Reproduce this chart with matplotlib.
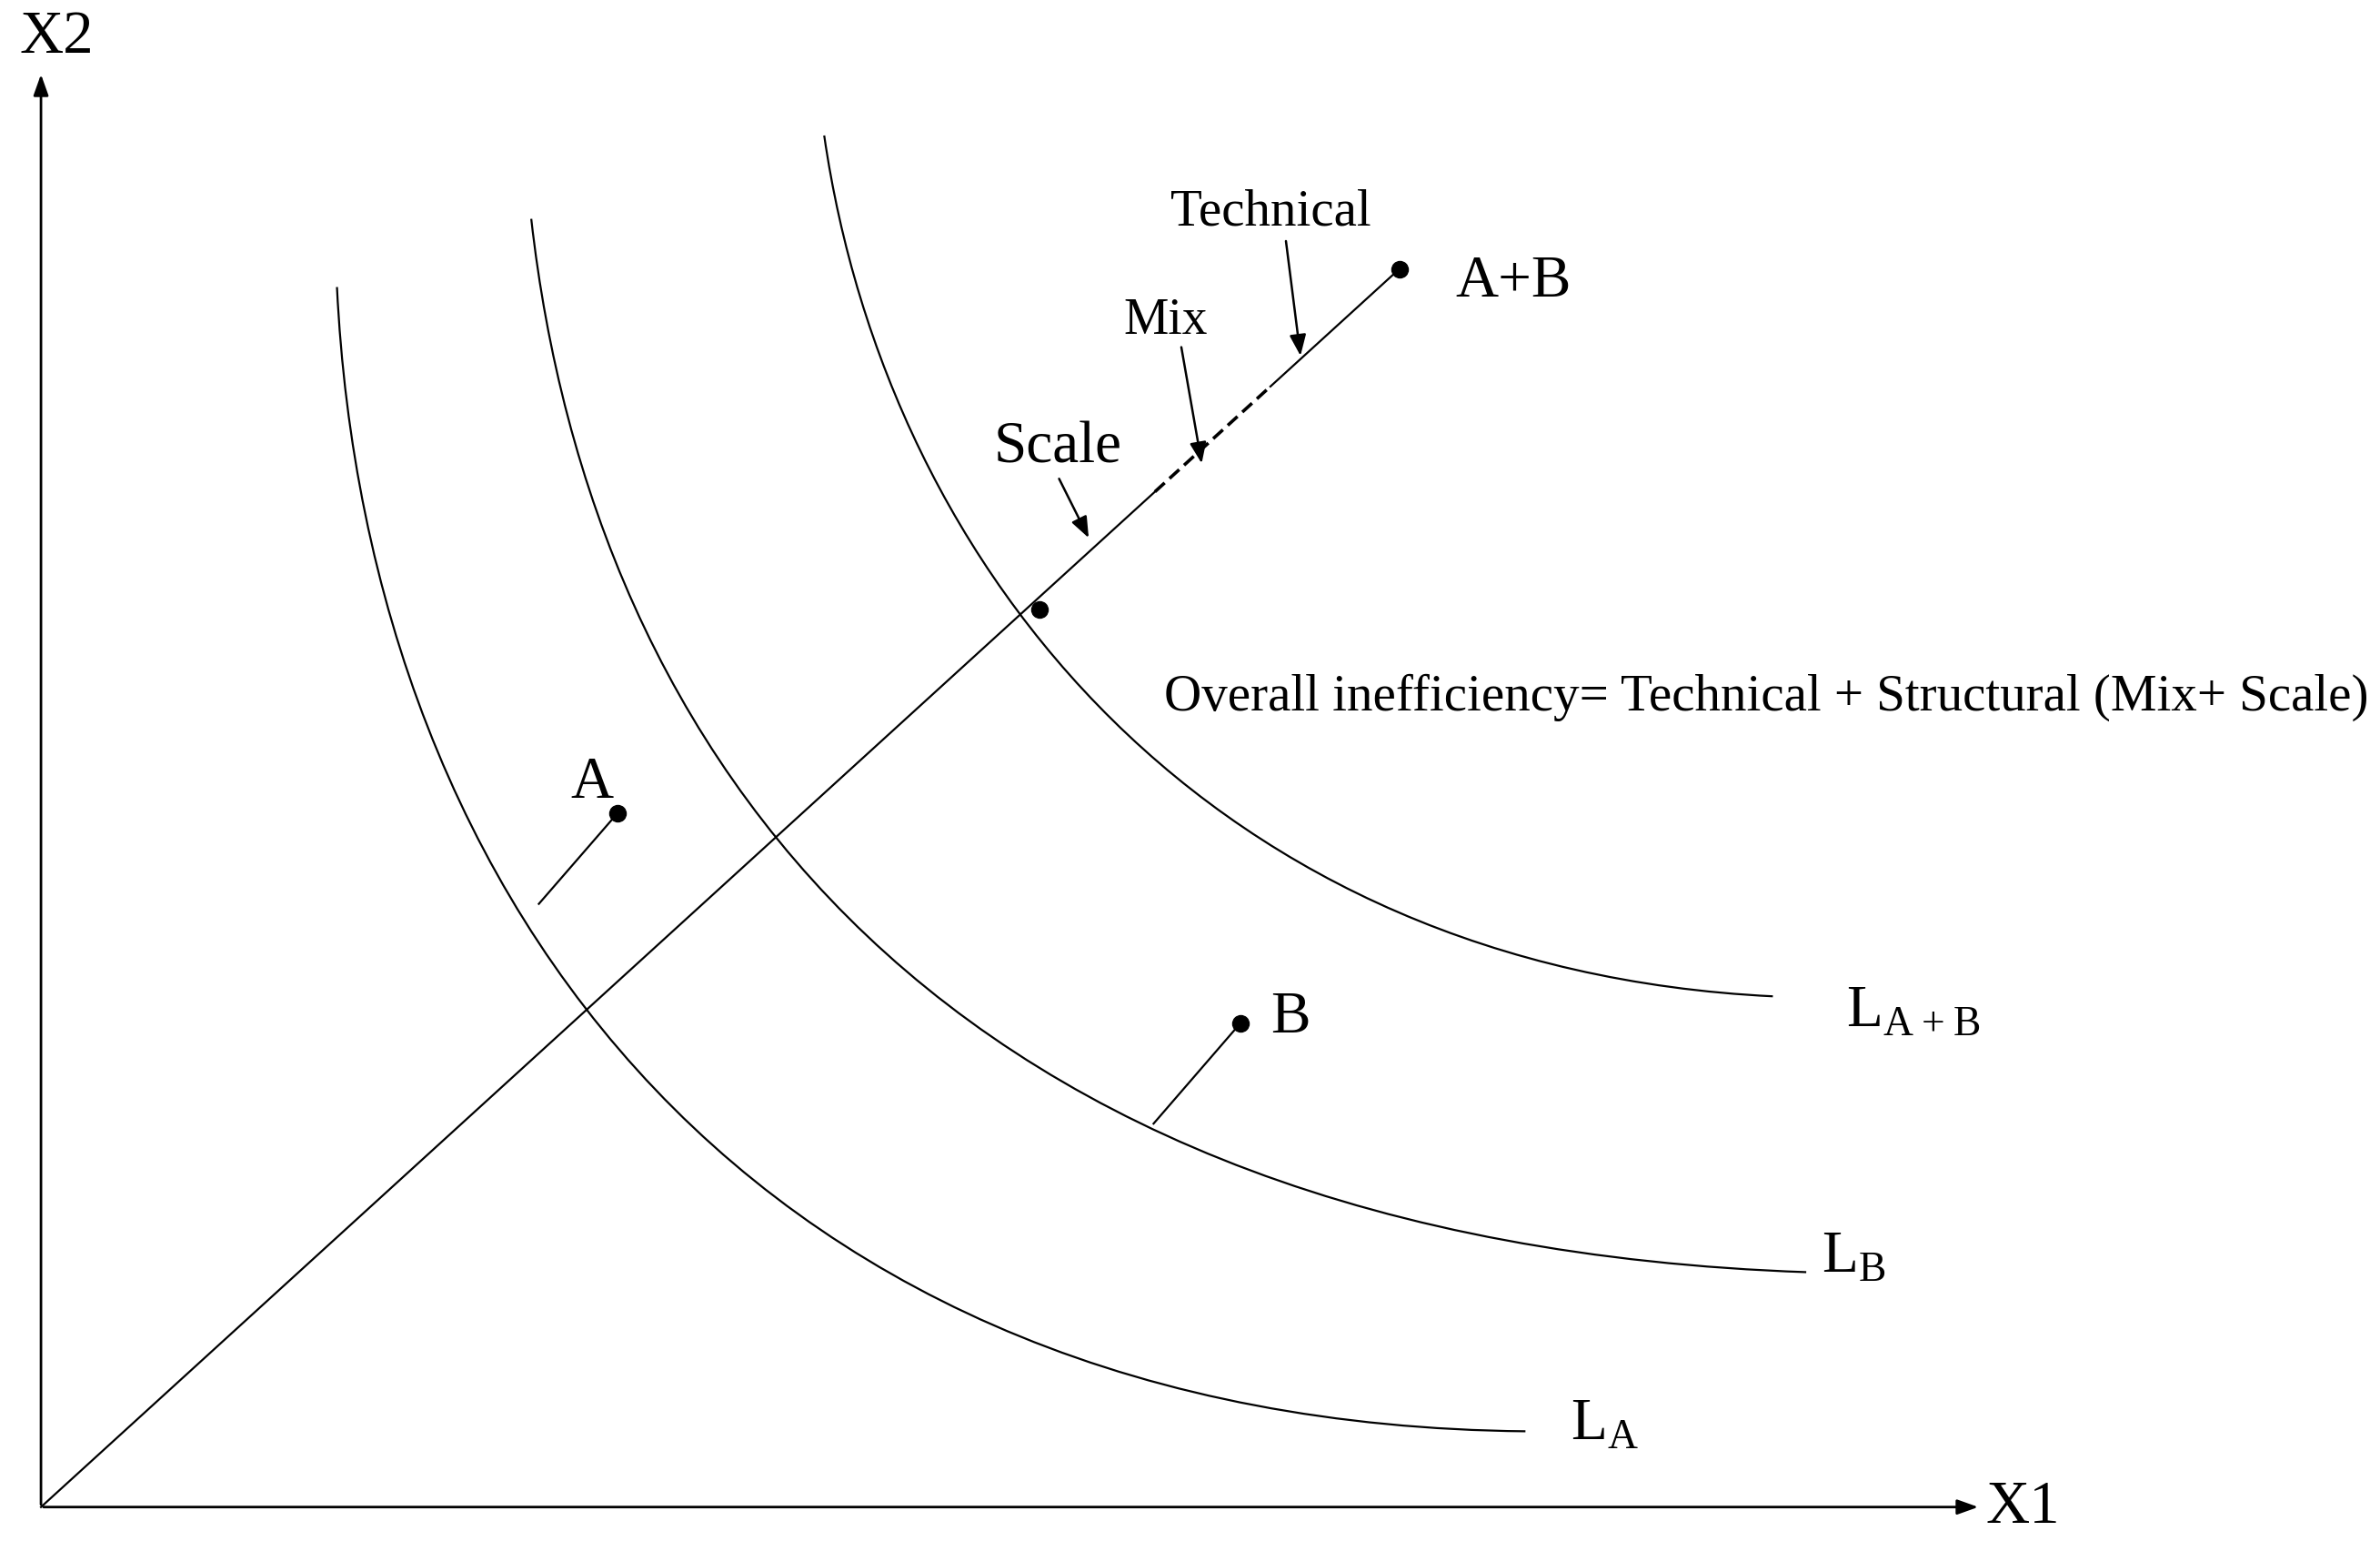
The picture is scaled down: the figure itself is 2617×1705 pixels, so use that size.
import matplotlib.pyplot as plt
from matplotlib.path import Path
from matplotlib.patches import PathPatch

plt.rcParams["font.family"] = "Liberation Serif"
plt.rcParams["mathtext.fontset"] = "custom"
plt.rcParams["mathtext.rm"] = "Liberation Serif"

# diagram coordinates (picture units, y grows downwards)
origin = (27, 995)
ab_point = (922, 178)
frontier_point = (685, 403)
point_a = (407, 537)
point_b = (817, 676)

# isoquants as cubic bezier control points
iso_la = [(222, 190), (242, 600), (500, 940), (1005, 945)]
iso_lb = [(350, 145), (390, 500), (620, 820), (1190, 840)]
iso_lab = [(543, 90), (585, 380), (800, 640), (1168, 658)]

fig = plt.figure(figsize=(26.17, 17.06), dpi=100)
ax = fig.add_axes([0, 0, 1, 1])
ax.set_xlim(0, 1568)
ax.set_ylim(1024, 0)
ax.axis("off")

#isoquants
for pts in (iso_la, iso_lb, iso_lab):
    path = Path(pts, [Path.MOVETO, Path.CURVE4, Path.CURVE4, Path.CURVE4])
    ax.add_patch(PathPatch(path, fill=False, lw=1.6, color="black"))

#ray from origin, with dashed segment
def on_ray(t):
    return (origin[0] + t * (ab_point[0] - origin[0]), origin[1] + t * (ab_point[1] - origin[1]))

for t0, t1, ls in [(0, 0.82, "-"), (0.82, 0.905, "--"), (0.905, 1, "-")]:
    p0, p1 = on_ray(t0), on_ray(t1)
    ax.plot([p0[0], p1[0]], [p0[1], p1[1]], color="black", lw=1.6 if ls == "-" else 2.6, ls=ls,
            dashes=(4, 2) if ls == "--" else (None, None))

#points
for p in (ab_point, frontier_point, point_a, point_b):
    ax.plot(*p, "o", color="black", ms=13)

ax.plot([point_a[0], 355], [point_a[1], 597], color="black", lw=1.6)
ax.plot([point_b[0], 760], [point_b[1], 742], color="black", lw=1.6)

#axes
arrow = dict(arrowstyle="-|>,head_length=1.4,head_width=0.5", color="black", lw=2)
ax.annotate("", xy=(1305, 995), xytext=origin, arrowprops=arrow)
ax.annotate("", xy=(27, 48), xytext=origin, arrowprops=arrow)
ax.text(37, 25, "X2", fontsize=48, ha="center", va="center")
ax.text(1333, 995, "X1", fontsize=48, ha="center", va="center")

#labelled arrows
small = dict(arrowstyle="-|>,head_length=1.4,head_width=0.55", color="black", lw=1.8)
ax.annotate("", xy=(718, 357), xytext=(697, 315), arrowprops=small)
ax.annotate("", xy=(792, 308), xytext=(778, 228), arrowprops=small)
ax.annotate("", xy=(857, 237), xytext=(847, 158), arrowprops=small)
ax.text(697, 296, "Scale", fontsize=47, ha="center", va="center")
ax.text(768, 212, "Mix", fontsize=40, ha="center", va="center")
ax.text(837, 140, "Technical", fontsize=41, ha="center", va="center")

ax.text(767, 460, "Overall inefficiency= Technical + Structural (Mix+ Scale)", fontsize=41,
        ha="left", va="center")
ax.text(390, 517, "A", fontsize=47, ha="center", va="center")
ax.text(850, 672, "B", fontsize=47, ha="center", va="center")
ax.text(997, 186, "A+B", fontsize=47, ha="center", va="center")
ax.text(1216, 668, r"L$_\mathrm{A+B}$", fontsize=47, ha="left", va="center")
ax.text(1200, 830, r"L$_\mathrm{B}$", fontsize=47, ha="left", va="center")
ax.text(1035, 940, r"L$_\mathrm{A}$", fontsize=47, ha="left", va="center")

fig.savefig("out.png")
